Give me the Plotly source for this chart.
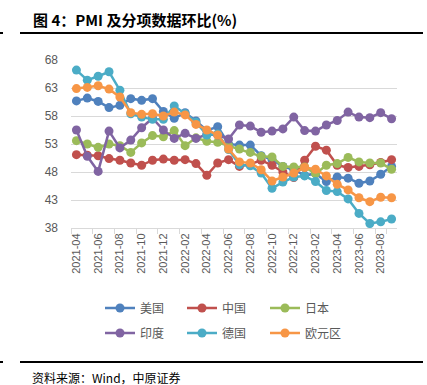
import plotly.graph_objects as go

months = ["2021-04","2021-05","2021-06","2021-07","2021-08","2021-09","2021-10","2021-11","2021-12",
          "2022-01","2022-02","2022-03","2022-04","2022-05","2022-06","2022-07","2022-08","2022-09",
          "2022-10","2022-11","2022-12","2023-01","2023-02","2023-03","2023-04","2023-05","2023-06",
          "2023-07","2023-08","2023-09"]

us = [60.7, 61.2, 60.6, 59.5, 59.9, 61.1, 60.8, 61.1, 58.8, 57.6, 58.6, 57.1, 55.4, 56.1, 53.0,
      52.8, 52.8, 50.9, 50.2, 49.0, 48.4, 47.4, 47.7, 46.3, 47.1, 46.9, 46.0, 46.4, 47.6, 49.0]
china = [51.1, 51.0, 50.9, 50.4, 50.1, 49.6, 49.2, 50.1, 50.3, 50.1, 50.2, 49.5, 47.4, 49.6, 50.2,
         49.0, 49.4, 50.1, 49.2, 48.0, 47.0, 50.1, 52.6, 51.9, 49.2, 48.8, 49.0, 49.3, 49.7, 50.2]
japan = [53.6, 53.0, 52.4, 53.0, 52.7, 51.5, 53.2, 54.5, 54.3, 55.4, 52.7, 54.1, 53.5, 53.3, 52.7,
         52.1, 51.5, 50.8, 50.7, 49.0, 48.9, 48.9, 47.7, 49.2, 49.5, 50.6, 49.8, 49.6, 49.6, 48.5]
india = [55.5, 50.8, 48.1, 55.3, 52.3, 53.7, 55.9, 57.6, 55.5, 54.0, 54.9, 54.0, 54.7, 54.6, 53.9,
         56.4, 56.2, 55.1, 55.3, 55.7, 57.8, 55.4, 55.3, 56.4, 57.2, 58.7, 57.8, 57.7, 58.6, 57.5]
germany = [66.2, 64.4, 65.1, 65.9, 62.6, 58.4, 57.8, 57.4, 57.4, 59.8, 58.4, 56.9, 54.6, 54.8, 52.0,
           49.3, 49.1, 47.8, 45.1, 46.2, 47.1, 47.3, 46.3, 44.7, 44.5, 43.2, 40.6, 38.8, 39.1, 39.6]
eurozone = [62.9, 63.1, 63.4, 62.8, 61.4, 58.6, 58.3, 58.4, 58.0, 58.7, 58.2, 56.5, 55.5, 54.6, 52.1,
            49.8, 49.6, 48.4, 46.4, 47.1, 47.8, 48.8, 48.5, 47.3, 45.8, 44.8, 43.4, 42.7, 43.5, 43.4]

series_names = ["美国", "中国", "日本", "印度", "德国", "欧元区"]
series_values = [us, china, japan, india, germany, eurozone]
series_colors = ["#4F81BD", "#C0504D", "#9BBB59", "#8064A2", "#4BACC6", "#F79646"]

tick_labels = months[::2]

W, H = 427, 385
L, R, T, B = 71, 30, 60, 157
pw, ph = W - L - R, H - T - B

def px(x):
    return (x - L) / pw

def py(y):
    return (H - B - y) / ph

font_cjk = "Noto Sans CJK SC"

# legend positions (pixel) for each entry: 3 columns x 2 rows
leg_x = [100, 182, 265]
leg_y = [308, 333]

fig = go.Figure()
layout_legends = {}
for i, (name, vals, color) in enumerate(zip(series_names, series_values, series_colors)):
    key = "legend" if i == 0 else f"legend{i+1}"
    fig.add_trace(go.Scatter(
        x=months, y=vals, name=name, mode="lines+markers",
        line=dict(color=color, width=2.5),
        marker=dict(color=color, size=9),
        legend=key,
    ))
    layout_legends[key] = dict(
        x=px(leg_x[i % 3]), y=py(leg_y[i // 3]), xanchor="left", yanchor="middle",
        font=dict(family=font_cjk, size=12, color="#595959"),
        itemwidth=30, bgcolor="rgba(0,0,0,0)",
    )

fig.update_layout(
    width=W, height=H,
    margin=dict(l=L, r=R, t=T, b=B),
    paper_bgcolor="white", plot_bgcolor="white",
    font=dict(family="Liberation Sans, Arial", color="#595959"),
    xaxis=dict(
        type="category", range=[-0.5, 29.5],
        tickmode="array", tickvals=tick_labels, ticktext=tick_labels,
        tickangle=-90, tickfont=dict(size=11, color="#595959"),
        showgrid=False, showline=True, linecolor="#D9D9D9", linewidth=1,
        ticks="outside", ticklen=5, tickcolor="#D9D9D9", tickson="boundaries",
        zeroline=False,
    ),
    yaxis=dict(
        range=[38, 68], tickmode="linear", tick0=38, dtick=5,
        tickfont=dict(size=12, color="#595959"),
        showgrid=True, gridcolor="#D9D9D9", gridwidth=1,
        zeroline=False, showline=False, ticks="", ticklabelstandoff=12,
    ),
    showlegend=True,
    **layout_legends,
)

fig.add_annotation(
    text="<b>图 4：PMI 及分项数据环比(%)</b>", xref="paper", yref="paper",
    x=px(31), y=py(20), xanchor="left", yanchor="middle", showarrow=False,
    font=dict(family=font_cjk, size=15, color="black"),
)
fig.add_annotation(
    text="资料来源：Wind，中原证券", xref="paper", yref="paper",
    x=px(30), y=py(377), xanchor="left", yanchor="middle", showarrow=False,
    font=dict(family=font_cjk, size=12, color="black"),
)
for yy in (33, 362):
    fig.add_shape(type="line", xref="paper", yref="paper",
                  x0=px(20), x1=px(423), y0=py(yy), y1=py(yy),
                  line=dict(color="black", width=2))
    fig.add_shape(type="line", xref="paper", yref="paper",
                  x0=px(0), x1=px(3), y0=py(yy), y1=py(yy),
                  line=dict(color="black", width=2))

fig.write_html("out.html", config={"displayModeBar": False},
               post_script="document.body.style.margin='0';")
